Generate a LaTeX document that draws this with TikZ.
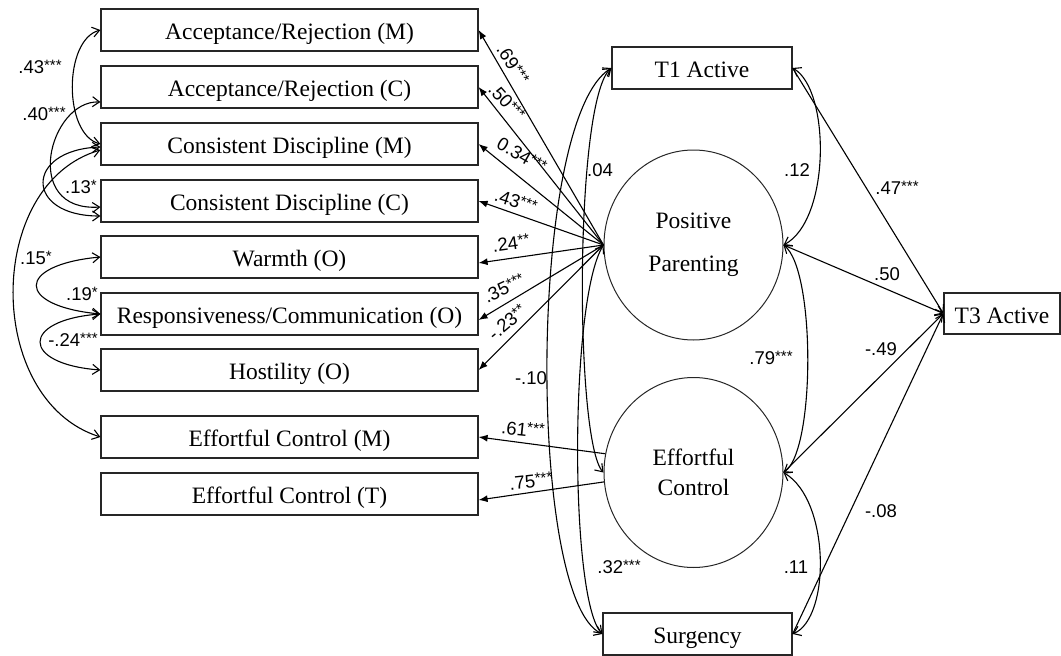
\documentclass[tikz,border=0pt]{standalone}
\usepackage{fontspec}
\setmainfont{Liberation Serif}
\newfontfamily\lblfont{Liberation Sans}
\usetikzlibrary{arrows.meta,shapes.geometric}
% significance stars set as raised superscripts
\newcommand\sigst[1]{\raisebox{3.5pt}{\fontsize{15}{15}\selectfont#1}}

\begin{document}
\begin{tikzpicture}[x=1pt,y=-1pt,
  obs/.style={draw=black!85, line width=1.2pt, minimum height=42pt, inner sep=0pt,
              text height=19pt, text depth=0pt,
              font=\fontsize{23.5}{28}\selectfont},
  indbox/.style={obs, minimum width=377pt},
  lv/.style={draw=black!85, line width=1pt, ellipse, minimum width=179pt, minimum height=190pt,
             inner sep=0pt, align=center, font=\fontsize{23.5}{28}\selectfont},
  ldg/.style={-{Latex[length=9pt,width=7pt]}, line width=1.1pt},
  cov/.style={{Straight Barb[length=7pt,width=10pt]}-{Straight Barb[length=7pt,width=10pt]}, line width=1.1pt},
  reg/.style={-{Straight Barb[length=7pt,width=10pt]}, line width=1.1pt},
  coef/.style={font=\lblfont\fontsize{18.5}{20}\selectfont, inner sep=0pt},
]
\useasboundingbox (0,0) rectangle (1061,656);

% indicators
\node[indbox] (arm) at (289.5,30)  {Acceptance/Rejection (M)};
\node[indbox] (arc) at (289.5,87)  {Acceptance/Rejection (C)};
\node[indbox] (cdm) at (289.5,144) {Consistent Discipline (M)};
\node[indbox] (cdc) at (289.5,201) {Consistent Discipline (C)};
\node[indbox] (wo)  at (289.5,257) {Warmth (O)};
\node[indbox] (rc)  at (289.5,314) {Responsiveness/Communication (O)};
\node[indbox] (ho)  at (289.5,370) {Hostility (O)};
\node[indbox] (ecm) at (289.5,437) {Effortful Control (M)};
\node[indbox] (ect) at (289.5,494) {Effortful Control (T)};

% latent factors and child variables
\node[lv] (pp) at (693.5,245) {Positive\\[15pt]Parenting};
\node[lv] (ec) at (693.5,472.5) {Effortful\\[2pt]Control};
\node[obs, minimum width=180pt] (t1) at (702,68) {T1 Active};
\node[obs, minimum width=189pt] (sur) at (697.5,634) {Surgency};
\node[obs, minimum width=116pt, minimum height=41pt] (t3) at (1002,313.5) {T3 Active};

% factor loadings
\draw[ldg] (pp.west) -- (arm.east);
\draw[ldg] (pp.west) -- (arc.east);
\draw[ldg] (pp.west) -- (cdm.east);
\draw[ldg] (pp.west) -- (cdc.east);
\draw[ldg] (pp.west) -- ([yshift=-6pt]wo.east);
\draw[ldg] (pp.west) -- ([yshift=-6pt]rc.east);
\draw[ldg] (pp.west) -- (ho.east);
\draw[ldg] (ec.168) -- (ecm.east);
\draw[ldg] (ec.186) -- ([yshift=-6pt]ect.east);

\node[coef, rotate=-58] (l69) at (513,64)  {.69\sigst{***}};
\node[coef, rotate=-48] (l50a) at (507,102) {.50\sigst{***}};
\node[coef, rotate=-30] (l34) at (522,155) {0.34\sigst{***}};
\node[coef, rotate=-18] (l43a) at (516,201) {.43\sigst{***}};
\node[coef, rotate=8]   (l24a) at (511,243) {.24\sigst{**}};
\node[coef, rotate=25]  (l35) at (504,288) {.35\sigst{***}};
\node[coef, rotate=40]  (l23) at (507,322) {-.23\sigst{**}};
\node[coef, rotate=-6]  (l61) at (523,429) {.61\sigst{***}};
\node[coef, rotate=6]   (l75) at (531,481) {.75\sigst{***}};

% residual covariances among indicators
\draw[cov] (arm.west) .. controls +(-37,10) and +(-37,-10) .. (cdm.west);
\draw[cov] ([yshift=-15pt]arc.west) .. controls +(-51,-2) and +(-80,5) .. ([yshift=-6pt]cdc.west);
\draw[cov] ([yshift=-3pt]cdm.west) .. controls +(-76,3) and +(-76,0) .. ([yshift=-15pt]cdc.west);
\draw[cov] ([yshift=-6pt]cdm.west) .. controls +(-116,34) and +(-116,-37) .. (ecm.west);
\draw[cov] (wo.west) .. controls +(-85,8) and +(-85,-8) .. (rc.west);
\draw[cov] (rc.west) .. controls +(-80,6) and +(-80,-6) .. (ho.west);

\node[coef] (l43) at (40,67)  {.43\sigst{***}};
\node[coef] (l40) at (44,114) {.40\sigst{***}};
\node[coef] (l13) at (81,187) {.13\sigst{*}};
\node[coef] (l15) at (36,258) {.15\sigst{*}};
\node[coef] (l19) at (82,294) {.19\sigst{*}};
\node[coef] (l24) at (73,340) {-.24\sigst{***}};

% covariances among predictors
\draw[cov] (t1.west) .. controls +(-37,32) and +(-29,-32) .. (ec.west);
\draw[cov] (t1.west) .. controls +(-84,52) and +(-75,-34) .. (sur.west);
\draw[cov] (pp.west) .. controls +(-34,55) and +(-33,-34) .. (sur.west);
\draw[cov] (t1.east) .. controls +(38,22) and +(47,-25) .. (pp.east);
\draw[cov] (pp.east) .. controls +(32,25) and +(32,-22) .. (ec.east);
\draw[cov] (ec.east) .. controls +(47,28) and +(38,-16) .. (sur.east);

% regressions on T3 Active
\draw[reg] (t1.east) -- (t3.west);
\draw[reg] (pp.east) -- (t3.west);
\draw[reg] (ec.east) -- (t3.west);
\draw[reg] (sur.east) -- (t3.west);

\node[coef] (l04) at (600,170) {.04};
\node[coef] (l10) at (531,378) {-.10};
\node[coef] (l32) at (619,567) {.32\sigst{***}};
\node[coef] (l12) at (797,170) {.12};
\node[coef] (l47) at (897,188) {.47\sigst{***}};
\node[coef] (l50) at (887,274) {.50};
\node[coef] (l79) at (771,358) {.79\sigst{***}};
\node[coef] (l49) at (881,349) {-.49};
\node[coef] (l08) at (881,511) {-.08};
\node[coef] (l11) at (796,567) {.11};
\end{tikzpicture}
\end{document}
